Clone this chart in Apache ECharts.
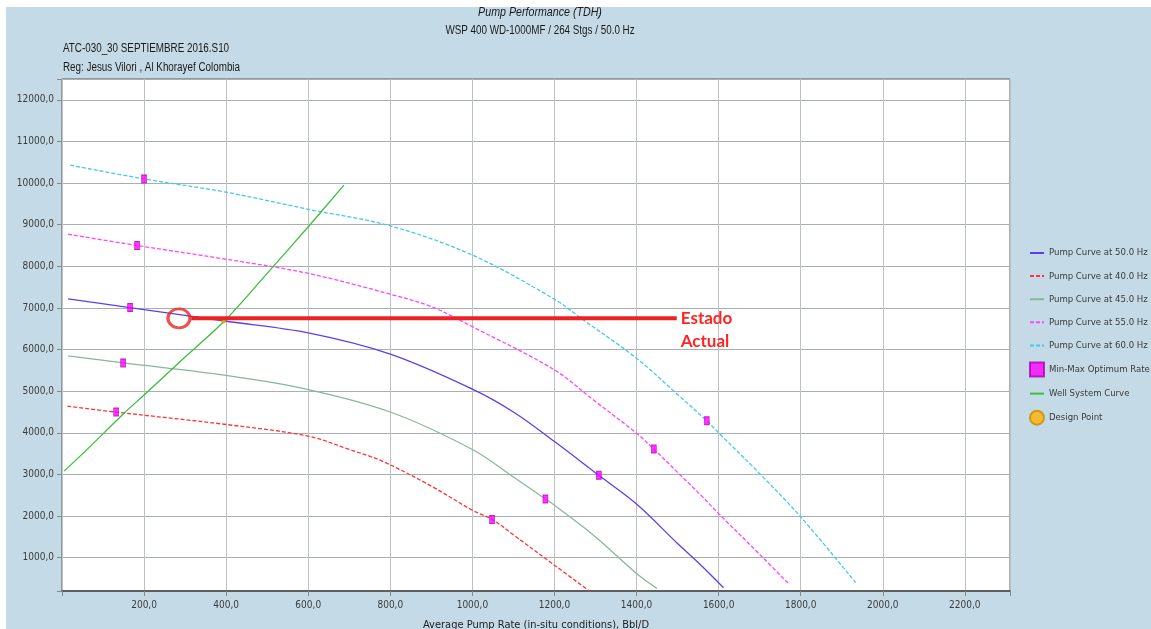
<!DOCTYPE html>
<html><head><meta charset="utf-8">
<script src="https://cdn.jsdelivr.net/npm/echarts@6/dist/echarts.min.js"></script>
<style>html,body{margin:0;padding:0;background:#fff}#c{width:1151px;height:629px}</style>
</head><body><div id="c"></div>
<script>
// ---- data ----
const curve50 = [[15,7220],[165,7010],[400,6680],[600,6400],[800,5890],[1000,5050],[1100,4500],[1200,3790],[1308,2980],[1400,2290],[1500,1340],[1557,820],[1612,280]];
const curve40 = [[13,4640],[130,4500],[400,4200],[600,3920],[700,3600],[780,3320],[900,2720],[1000,2140],[1048,1920],[1100,1550],[1200,820],[1285,200]];
const curve45 = [[15,5850],[150,5680],[400,5380],[600,5040],[800,4500],[1000,3600],[1100,2940],[1178,2410],[1200,2260],[1300,1500],[1400,620],[1450,260]];
const curve55 = [[15,8770],[183,8500],[400,8170],[600,7830],[800,7330],[900,7030],[1000,6550],[1200,5510],[1300,4750],[1400,3990],[1442,3610],[1500,3050],[1557,2500],[1600,2060],[1700,1080],[1772,360]];
const curve60 = [[20,10430],[200,10100],[400,9780],[600,9370],[800,8970],[1000,8270],[1200,7210],[1265,6750],[1400,5790],[1500,4920],[1571,4290],[1600,4000],[1700,3020],[1800,1980],[1934,400]];
const minMaxRate = [[200,10100],[183,8500],[166,7010],[149,5680],[132,4500],[1571,4290],[1442,3610],[1308,2980],[1178,2410],[1048,1920]];
const wellCurve = [[5,3080],[60,3590],[150,4460],[200,4910],[300,5820],[400,6730],[500,7830],[600,8950],[687,9950]];
const designPoint = [[394,6685]];
const estadoLine = [[315,6750],[1498,6750]];
const estadoCircle = [[285,6750]];
const estadoText = 'Estado\nActual';
const legendNames = ['Pump Curve at 50.0 Hz','Pump Curve at 40.0 Hz','Pump Curve at 45.0 Hz','Pump Curve at 55.0 Hz','Pump Curve at 60.0 Hz','Min-Max Optimum Rate','Well System Curve','Design Point'];
const titleText = 'Pump Performance (TDH)';
const subTitleText = 'WSP 400 WD-1000MF / 264 Stgs / 50.0 Hz';
const infoLine1 = 'ATC-030_30 SEPTIEMBRE 2016.S10';
const infoLine2 = 'Reg: Jesus Vilori , Al Khorayef Colombia';
const xAxisName = 'Average Pump Rate (in-situ conditions), Bbl/D';
const yAxisName = 'TDH, ft';

const COND = "'DejaVu Sans Condensed','DejaVu Sans',sans-serif";
const fmt = v => v.toFixed(1).replace('.', ',');

function curve(name, data, color, dashed) {
  return {
    name, type: 'line', data, symbol: 'none', smooth: 0.35,
    lineStyle: { color, width: 1.3, type: dashed ? [4, 2] : 'solid' },
    itemStyle: { color }, z: 3
  };
}
const lineLegend = n => ({ name: n, itemStyle: { opacity: 0, borderWidth: 0 } });

const chart = echarts.init(document.getElementById('c'));
chart.setOption({
  animation: false,
  backgroundColor: '#c4dae6',
  grid: { left: 62, right: 141, top: 79, bottom: 38, show: true, backgroundColor: '#ffffff', borderColor: '#5a5a5a', borderWidth: 1, outerBoundsMode: 'none', containLabel: false },
  legend: {
    data: [lineLegend(legendNames[0]), lineLegend(legendNames[1]), lineLegend(legendNames[2]), lineLegend(legendNames[3]), lineLegend(legendNames[4]),
           { name: legendNames[5] }, lineLegend(legendNames[6]), { name: legendNames[7] }],
    orient: 'vertical', left: 1024, top: 241,
    itemWidth: 14, itemHeight: 14, itemGap: 9.1, selectedMode: false,
    textStyle: { fontFamily: COND, fontSize: 9.5, lineHeight: 14, color: '#3a3a3a' }
  },
  xAxis: {
    type: 'value', min: 0, max: 2310, interval: 200,
    name: xAxisName, nameLocation: 'middle', nameGap: 29,
    nameTextStyle: { fontFamily: COND, fontSize: 11, color: '#222' },
    axisLine: { show: true, lineStyle: { color: '#444', width: 1.5 } },
    axisTick: { show: true, length: 5, lineStyle: { color: '#888' } },
    axisLabel: { margin: 9, fontFamily: COND, fontSize: 10, color: '#3c3c3c',
      formatter: v => (v > 0 && v % 200 === 0) ? fmt(v) : '' },
    splitLine: { show: true, lineStyle: { color: '#bcc1c5', width: 1 } }
  },
  yAxis: {
    type: 'value', min: 200, max: 12500, splitNumber: 12,
    name: yAxisName, nameLocation: 'middle', nameGap: 44,
    nameTextStyle: { fontFamily: COND, fontSize: 11, color: '#222' },
    axisLine: { show: false },
    axisTick: { show: true, length: 5, lineStyle: { color: '#888' } },
    axisLabel: { margin: 8, fontFamily: COND, fontSize: 10, color: '#3c3c3c',
      formatter: v => (v > 0 && v % 1000 === 0) ? fmt(v) : '' },
    splitLine: { show: true, lineStyle: { color: '#a9aeb3', width: 1 } }
  },
  series: [
    curve(legendNames[0], curve50, '#5c3ff2', false),
    curve(legendNames[1], curve40, '#ff3535', true),
    curve(legendNames[2], curve45, '#86b89c', false),
    curve(legendNames[3], curve55, '#ff45ff', true),
    curve(legendNames[4], curve60, '#45c8f2', true),
    { name: legendNames[5], type: 'scatter', data: minMaxRate, symbol: 'rect', symbolSize: [5, 8],
      itemStyle: { color: '#ff00ff', borderColor: '#b000b0', borderWidth: 0.8 }, z: 6 },
    { name: legendNames[6], type: 'line', data: wellCurve, symbol: 'none', smooth: 0.35,
      lineStyle: { color: '#3cbf3c', width: 1.3 }, itemStyle: { color: '#3cbf3c' }, z: 3 },
    { name: legendNames[7], type: 'scatter', data: designPoint, symbol: 'circle', symbolSize: 4,
      itemStyle: { color: '#ffb400', borderColor: '#d08a00', borderWidth: 0.8 }, z: 7 },
    { name: 'estado', type: 'line', data: estadoLine, symbol: 'none', showSymbol: false,
      lineStyle: { color: '#ee2222', width: 4 }, z: 8, silent: true,
      endLabel: { show: true, formatter: estadoText, distance: 4, offset: [0, 11.5],
        fontFamily: "Lato, 'Open Sans', sans-serif", fontWeight: 'bold', fontSize: 17, lineHeight: 23, color: '#ff2424', align: 'left' } },
    { name: 'estadoCircle', type: 'scatter', data: estadoCircle, symbol: 'circle', symbolSize: [22, 19],
      itemStyle: { color: 'rgba(0,0,0,0)', borderColor: '#ee2222', borderWidth: 3 }, z: 8, silent: true }
  ],
  graphic: [
    { type: 'text', x: 540, y: 12, scaleX: 0.82, z: 10, style: { text: titleText, align: 'center', verticalAlign: 'middle', font: "italic 13px 'Liberation Sans', Arial, sans-serif", fill: '#1a1a1a' } },
    { type: 'text', x: 540, y: 31, scaleX: 0.82, z: 10, style: { text: subTitleText, align: 'center', verticalAlign: 'middle', font: "12px 'Liberation Sans', Arial, sans-serif", fill: '#1a1a1a' } },
    { type: 'text', x: 63, y: 49, scaleX: 0.82, z: 10, style: { text: infoLine1, align: 'left', verticalAlign: 'middle', font: "12px 'Liberation Sans', Arial, sans-serif", fill: '#1a1a1a' } },
    { type: 'text', x: 63, y: 68, scaleX: 0.82, z: 10, style: { text: infoLine2, align: 'left', verticalAlign: 'middle', font: "12px 'Liberation Sans', Arial, sans-serif", fill: '#1a1a1a' } },
    { type: 'rect', x: 0, y: 0, z: 100, shape: { width: 1151, height: 7 }, style: { fill: '#ffffff' } },
    { type: 'rect', x: 0, y: 0, z: 100, shape: { width: 6, height: 629 }, style: { fill: '#ffffff' } }
  ]
});
</script></body></html>
